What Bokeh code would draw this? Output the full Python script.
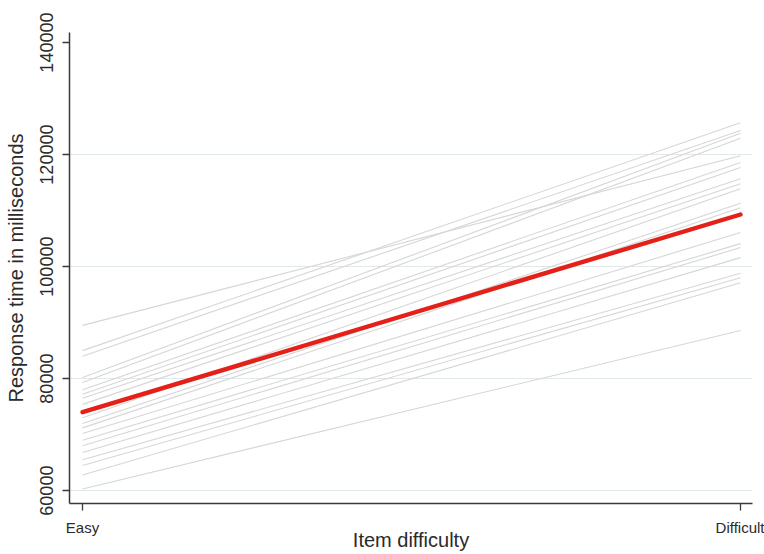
from bokeh.plotting import figure
from bokeh.models import FixedTicker, Range1d
from bokeh.embed import file_html
from bokeh.resources import INLINE

# Item difficulty levels (x positions are their indexes)
levels = ["Easy", "Difficult"]

# Per-participant predicted response times (ms) at each difficulty level
easy_rt = [89500, 85000, 84000, 80200, 79300, 78000, 77200, 76500, 75400, 73000,
           72000, 71200, 70200, 69000, 68000, 66800, 65500, 64500, 62800, 60300]
difficult_rt = [119800, 125700, 124300, 123800, 122900, 118600, 117700, 115700, 114800, 113900,
                111300, 110500, 106100, 104100, 103400, 101600, 98800, 98000, 97100, 88600]

# Average (fixed-effect) prediction
mean_rt = [74000, 109300]

y_ticks = [60000, 80000, 100000, 120000, 140000]
grid_ticks = [60000, 80000, 100000, 120000]

FONT = "Liberation Sans"
TEXT = "#2b2b2b"
AXIS = "#3a3a3a"

p = figure(width=764, height=554, output_backend="svg", toolbar_location=None,
           x_range=Range1d(-0.0198, 1.0182), y_range=Range1d(57700, 141800),
           min_border_left=69, min_border_right=12, min_border_top=32, min_border_bottom=51,
           background_fill_color="white", border_fill_color="white")
p.outline_line_color = None

xs = [list(range(len(levels))) for _ in easy_rt]
ys = [[e, d] for e, d in zip(easy_rt, difficult_rt)]
p.multi_line(xs, ys, line_color="#d6d6d6", line_width=1.1)
p.line(list(range(len(levels))), mean_rt, line_color="#e32119", line_width=4.4, line_cap="round")

# grid
p.xgrid.visible = False
p.ygrid.ticker = FixedTicker(ticks=grid_ticks)
p.ygrid.grid_line_color = "#e0e9ee"
p.ygrid.grid_line_width = 1.2

# x axis
p.xaxis.ticker = FixedTicker(ticks=list(range(len(levels))))
p.xaxis.major_label_overrides = {i: s for i, s in enumerate(levels)}
p.xaxis.axis_label = "Item difficulty"

# y axis
p.yaxis.ticker = FixedTicker(ticks=y_ticks)
p.yaxis.formatter.use_scientific = False
p.yaxis.major_label_orientation = "vertical"
p.yaxis.axis_label = "Response time in milliseconds"

for ax in (p.xaxis[0], p.yaxis[0]):
    ax.axis_line_color = AXIS
    ax.axis_line_width = 1.5
    ax.major_tick_line_color = AXIS
    ax.major_tick_line_width = 1.3
    ax.major_tick_out = 7
    ax.major_tick_in = 0
    ax.minor_tick_line_color = None
    ax.major_label_text_font = FONT
    ax.major_label_text_color = TEXT
    ax.axis_label_text_font = FONT
    ax.axis_label_text_color = TEXT
    ax.axis_label_text_font_style = "normal"
    ax.axis_label_text_font_size = "20px"

p.xaxis.major_label_text_font_size = "15px"
p.xaxis.major_label_standoff = 8
p.xaxis.axis_label_standoff = -10
p.yaxis.major_label_text_font_size = "18px"
p.yaxis.major_label_standoff = 9
p.yaxis.axis_label_standoff = 11

open("out.html", "w").write(file_html(p, INLINE))
